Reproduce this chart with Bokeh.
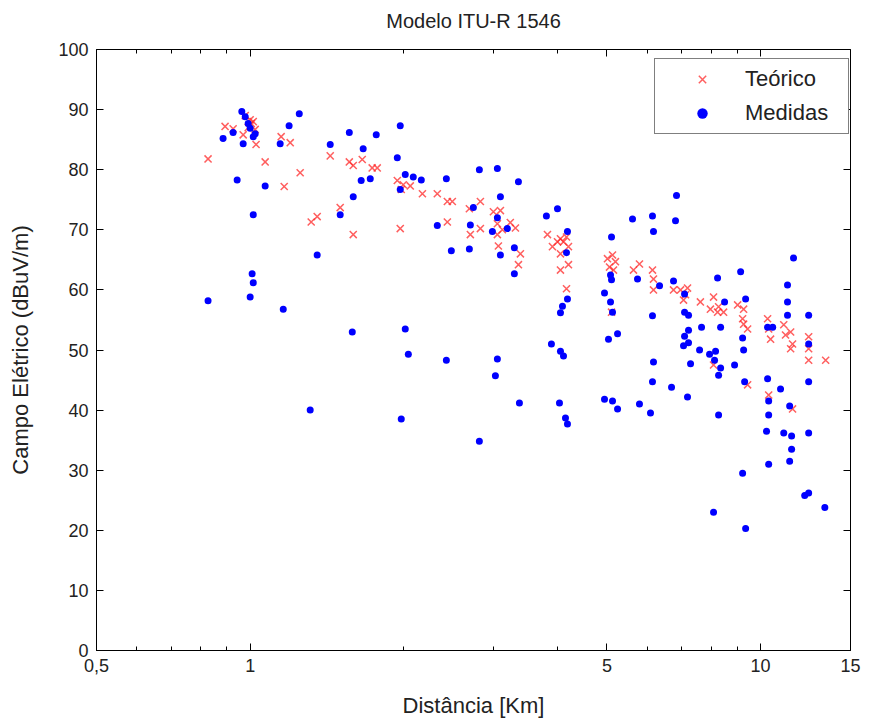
from bokeh.plotting import figure
from bokeh.models import (LogAxis, LinearAxis, FixedTicker, CustomJSTickFormatter,
                          Range1d, CustomLabelingPolicy)
from bokeh.embed import file_html
from bokeh.resources import INLINE

# ---------------- data ----------------
teorico_dist = [0.827, 0.893, 0.926, 0.978, 1.000, 1.014, 0.991, 1.023, 1.005, 0.969,
                1.027, 1.070, 1.150, 1.198, 1.166, 1.253, 1.317, 1.353, 1.435, 1.501,
                1.564, 1.592, 1.592, 1.658, 1.734, 1.774, 1.942, 1.995, 2.059, 1.977,
                1.968, 2.175, 2.326, 2.434, 2.489, 2.434, 2.688, 2.700, 2.825, 2.825,
                2.996, 3.092, 3.050, 3.120, 3.050, 3.064, 3.233, 3.309, 3.384, 3.354,
                3.823, 3.910, 4.000, 4.054, 4.110, 4.166, 4.203, 4.054, 4.054, 4.203,
                4.166, 5.012, 5.127, 5.195, 5.058, 5.150, 5.104, 5.636, 5.790, 6.140,
                6.168, 6.168, 6.751, 6.968, 7.191, 7.127, 7.063, 7.621, 7.973, 8.087,
                8.273, 8.235, 8.462, 8.087, 9.015, 9.262, 9.220, 9.262, 9.430, 9.430,
                10.32, 10.37, 10.46, 10.37, 11.10, 11.19, 11.45, 11.55, 11.45, 11.55,
                12.42, 12.42, 12.42, 13.41]
teorico_campo = [81.8, 87.2, 86.8, 89.0, 88.3, 88.0, 87.0, 86.7, 87.7, 85.8,
                 84.2, 81.3, 85.5, 84.5, 77.2, 79.5, 71.3, 72.2, 82.3, 73.7,
                 81.3, 80.7, 69.2, 81.7, 80.3, 80.3, 78.2, 77.5, 77.3, 76.7,
                 70.2, 76.0, 76.0, 74.7, 74.7, 71.3, 73.5, 69.2, 74.7, 70.2,
                 73.0, 73.2, 71.0, 70.0, 69.2, 67.3, 71.2, 70.3, 66.0, 64.2,
                 69.2, 67.2, 68.0, 68.5, 68.0, 68.8, 67.2, 66.0, 63.3, 64.2,
                 60.2, 65.2, 65.8, 64.7, 63.8, 63.3, 56.3, 63.3, 64.3, 63.3,
                 61.8, 60.0, 60.0, 60.0, 60.3, 59.2, 58.3, 58.0, 56.8, 58.8,
                 57.2, 56.3, 56.3, 47.5, 57.5, 56.8, 55.2, 54.3, 53.5, 44.2,
                 55.2, 53.5, 51.8, 42.5, 54.2, 52.5, 53.0, 51.0, 50.2, 40.2,
                 52.2, 50.2, 48.3, 48.3]

medidas_dist = [0.963, 0.978, 0.991, 1.000, 1.023, 1.014, 0.926, 0.885, 0.969, 1.145,
                1.192, 1.248, 0.943, 1.070, 1.014, 1.009, 1.014, 1.000, 0.827, 1.161,
                1.311, 1.353, 1.435, 1.564, 1.766, 1.665, 1.650, 1.719, 1.592, 1.501,
                1.585, 1.968, 1.942, 2.013, 2.087, 2.164, 1.968, 2.423, 2.013, 2.041,
                2.423, 1.977, 2.812, 3.050, 2.737, 2.700, 2.326, 2.478, 2.688, 2.812,
                3.354, 3.092, 3.050, 2.982, 3.190, 3.293, 3.092, 3.293, 3.050, 3.023,
                3.369, 3.805, 4.000, 4.184, 4.166, 4.184, 4.091, 4.054, 3.892, 4.054,
                4.110, 4.036, 4.147, 4.184, 5.104, 5.081, 5.104, 4.945, 5.081, 5.127,
                5.035, 5.245, 4.945, 5.127, 5.245, 5.611, 6.140, 6.843, 6.812, 6.168,
                5.739, 6.339, 6.751, 7.096, 6.140, 6.168, 6.140, 6.085, 5.790, 6.691,
                7.096, 7.224, 7.224, 7.096, 7.063, 7.224, 7.191, 7.290, 7.593, 7.661,
                7.943, 8.161, 8.124, 8.235, 8.349, 8.500, 8.349, 8.273, 8.273, 9.138,
                9.346, 9.220, 9.262, 8.892, 9.304, 9.220, 8.087, 9.346, 10.32, 10.56,
                10.32, 10.37, 10.37, 10.27, 10.37, 10.94, 11.60, 11.29, 11.29, 11.29,
                11.40, 11.10, 11.50, 11.50, 11.40, 12.42, 12.42, 12.42, 12.42, 12.20,
                12.42, 13.36]
medidas_campo = [89.7, 88.8, 87.7, 86.9, 86.0, 85.5, 86.2, 85.2, 84.3, 84.3,
                 87.3, 89.3, 78.3, 77.3, 72.5, 62.7, 61.2, 58.8, 58.2, 56.8,
                 40.0, 65.8, 84.2, 86.2, 85.8, 83.5, 78.2, 78.5, 75.5, 72.5,
                 53.0, 87.3, 82.0, 79.2, 78.8, 78.3, 76.7, 78.5, 53.5, 49.3,
                 48.3, 38.5, 80.0, 80.2, 73.7, 70.8, 70.7, 66.5, 66.8, 34.8,
                 78.0, 75.5, 72.0, 69.7, 70.2, 67.0, 65.8, 62.7, 48.5, 45.7,
                 41.2, 72.3, 73.5, 69.7, 66.2, 58.5, 57.3, 56.2, 51.0, 49.8,
                 49.0, 41.2, 38.7, 37.7, 68.8, 62.5, 61.7, 59.5, 58.0, 56.3,
                 51.8, 52.7, 41.8, 41.5, 40.2, 71.8, 72.3, 75.7, 71.5, 69.7,
                 61.8, 60.7, 61.5, 59.3, 55.7, 48.0, 44.7, 39.5, 41.0, 43.8,
                 56.3, 55.8, 53.3, 52.3, 50.7, 51.2, 42.2, 47.7, 50.0, 53.8,
                 49.3, 49.8, 48.3, 62.0, 53.8, 58.0, 47.0, 45.8, 39.2, 63.0,
                 58.5, 52.0, 50.0, 47.5, 44.7, 29.5, 23.0, 20.3, 53.8, 53.8,
                 45.2, 41.5, 39.2, 36.5, 31.0, 43.5, 65.3, 60.8, 58.0, 55.8,
                 40.7, 36.2, 35.7, 33.5, 31.5, 55.8, 51.0, 44.7, 36.2, 25.8,
                 26.2, 23.8]

x_ticks = [0.5, 1, 5, 10, 15]
x_tick_labels = ["0,5", "1", "5", "10", "15"]
x_minor_ticks = [0.6, 0.7, 0.8, 0.9, 2, 3, 4, 6, 7, 8, 9]
y_ticks = [0, 10, 20, 30, 40, 50, 60, 70, 80, 90, 100]

TXT = "#222222"
FONT = "Liberation Sans"

p = figure(x_axis_type="log", x_range=Range1d(0.5, 15), y_range=Range1d(0, 100),
           frame_width=754, frame_height=601,
           min_border_left=96, min_border_right=16, min_border_top=47, min_border_bottom=74,
           output_backend="svg", toolbar_location=None, title="Modelo ITU-R 1546")

p.title.align = "center"
p.title.text_font = FONT
p.title.text_font_size = "20px"
p.title.text_font_style = "normal"
p.title.text_color = TXT
p.title.standoff = 14

p.xgrid.visible = False
p.ygrid.visible = False
p.outline_line_color = "black"
p.outline_line_width = 1
p.background_fill_color = "white"
p.border_fill_color = "white"

fmt = CustomJSTickFormatter(args=dict(vals=x_ticks, labs=x_tick_labels), code="""
for (let i = 0; i < vals.length; i++) {
  if (Math.abs(tick - vals[i]) < 1e-6) return labs[i];
}
return "";
""")

xa = p.xaxis[0]
xa.ticker = FixedTicker(ticks=x_ticks, minor_ticks=x_minor_ticks)
xa.formatter = fmt
ya = p.yaxis[0]
ya.ticker = FixedTicker(ticks=y_ticks)

for ax in (xa, ya):
    ax.major_tick_in = 7
    ax.major_tick_out = 0
    ax.minor_tick_in = 4
    ax.minor_tick_out = 0
    ax.axis_line_color = "black"
    ax.major_tick_line_color = "black"
    ax.minor_tick_line_color = "black"
    ax.major_label_text_font = FONT
    ax.major_label_text_font_size = "18px"
    ax.major_label_text_color = TXT
    ax.axis_label_text_font = FONT
    ax.axis_label_text_font_size = "22px"
    ax.axis_label_text_font_style = "normal"
    ax.axis_label_text_color = TXT
    ax.major_label_standoff = 8
ya.minor_tick_line_color = None
xa.axis_label = "Distância [Km]"
ya.axis_label = "Campo Elétrico (dBuV/m)"
xa.axis_label_standoff = 18
ya.axis_label_standoff = 22

no_labels = CustomLabelingPolicy(code="return new Set()")
no_labels2 = CustomLabelingPolicy(code="return new Set()")

top = LogAxis(ticker=FixedTicker(ticks=x_ticks, minor_ticks=x_minor_ticks),
              major_label_policy=no_labels, major_label_standoff=0,
              major_tick_in=7, major_tick_out=0, minor_tick_in=4, minor_tick_out=0,
              axis_line_color=None)
p.add_layout(top, "above")
right = LinearAxis(ticker=FixedTicker(ticks=y_ticks),
                   major_label_policy=no_labels2, major_label_standoff=0,
                   major_tick_in=7, major_tick_out=0, minor_tick_line_color=None,
                   axis_line_color=None)
p.add_layout(right, "right")

p.scatter(teorico_dist, teorico_campo, marker="x", size=10, line_color="#ff2a2a",
          line_width=1.5, line_alpha=0.75, legend_label="Teórico")
p.scatter(medidas_dist, medidas_campo, marker="circle", size=7, fill_color="#0000ff",
          line_color=None, legend_label="Medidas")

lg = p.legend[0]
lg.location = (558, 516)
lg.border_line_color = "black"
lg.border_line_width = 1
lg.background_fill_color = "white"
lg.background_fill_alpha = 1
lg.padding = 7
lg.margin = 0
lg.spacing = 8
lg.glyph_height = 26
lg.glyph_width = 80
lg.label_height = 26
lg.label_width = 96
lg.label_standoff = 3
lg.label_text_font = FONT
lg.label_text_font_size = "22px"
lg.label_text_color = TXT

open("out.html", "w").write(file_html(p, INLINE))
